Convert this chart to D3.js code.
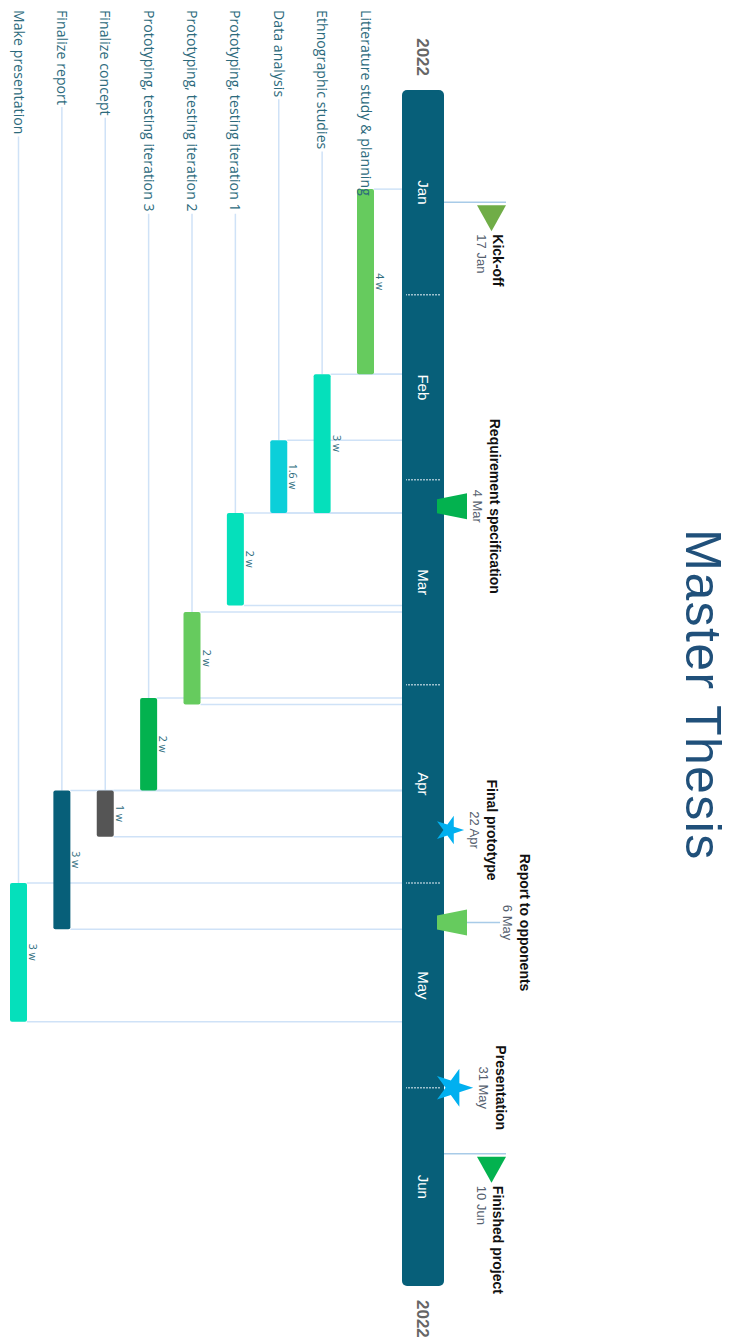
<!DOCTYPE html>
<html><head><meta charset="utf-8">
<script src="https://cdn.jsdelivr.net/npm/d3@7"></script>
<style>body{margin:0;background:#fff} svg{display:block}</style>
</head><body>
<svg id="chart" width="733" height="1341"></svg>
<script>
// ---------- data ----------
const chartTitle = "Master Thesis";
const yearLabel = "2022";
const timelineStart = "2022-01-01";
const timelineEnd = "2022-07-01";
const taskNames = ["Litterature study & planning","Ethnographic studies","Data analysis","Prototyping, testing iteration 1","Prototyping, testing iteration 2","Prototyping, testing iteration 3","Finalize concept","Finalize report","Make presentation"];
const taskStarts = ["2022-01-16","2022-02-13","2022-02-23","2022-03-06","2022-03-21","2022-04-03","2022-04-17","2022-04-17","2022-05-01"];
const taskEnds   = ["2022-02-13","2022-03-06","2022-03-06","2022-03-20","2022-04-04","2022-04-17","2022-04-24","2022-05-08","2022-05-22"];
const milestoneNames = ["Kick-off","Requirement specification","Final prototype","Report to opponents","Presentation","Finished project"];
const milestoneDates = ["2022-01-17","2022-03-04","2022-04-22","2022-05-06","2022-05-31","2022-06-10"];
const milestoneShapes = ["triangle","trapezoid","star","trapezoid","star","triangle"];

// ---------- styles ----------
const taskPalette = ["#66cb5e","#05e0bb","#0ccfd9","#05e0bb","#66cb5e","#03b24f","#555555","#075f79","#05e0bb"];
const milestonePalette = ["#70ad47","#03b24f","#00b0f0","#66cb5e","#00b0f0","#03b24f"];
const starRadius = {"Final prototype":15, "Presentation":20};

const parse = d3.timeParse("%Y-%m-%d");
const fmt = d3.timeFormat("%-d %b");

const svg = d3.select("#chart");
// Whole chart is laid out horizontally and rotated 90deg clockwise.
const g = svg.append("g").attr("transform","translate(733,0) rotate(90)");

const x = d3.scaleTime().domain([parse(timelineStart), parse(timelineEnd)]).range([90, 1286]);
const row = d3.scalePoint().domain(taskNames).range([367.5, 714.5]);

const tlTop = 289, tlBottom = 331, barH = 17;
const lineColor = "#cfe2f7";
const textTeal = "#2c6a7c";
const sans = "Liberation Sans, Arial, sans-serif";

// title
g.append("text").attr("x", 695).attr("y", 47).attr("text-anchor","middle")
  .attr("font-family",sans).attr("font-size", 50).attr("letter-spacing",1.4)
  .attr("fill","#20507a").text(chartTitle);

// timeline band
g.append("rect").attr("x", x.range()[0]).attr("y", tlTop)
  .attr("width", x.range()[1]-x.range()[0]).attr("height", tlBottom-tlTop)
  .attr("rx", 5).attr("fill", "#075f79");

const monthStarts = d3.timeMonth.range(parse(timelineStart), parse(timelineEnd));
g.selectAll(".mdiv").data(monthStarts.slice(1)).join("line")
  .attr("x1", d=>x(d)).attr("x2", d=>x(d)).attr("y1", tlTop+4).attr("y2", tlBottom-4)
  .attr("stroke","#9cc0cd").attr("stroke-width",1.5).attr("stroke-dasharray","2,1");
g.selectAll(".mlab").data(monthStarts).join("text")
  .attr("x", d=>(x(d)+x(d3.timeMonth.offset(d,1)))/2).attr("y", (tlTop+tlBottom)/2)
  .attr("dy","0.35em").attr("text-anchor","middle")
  .attr("font-family",sans).attr("font-size",15)
  .attr("fill","#ffffff").text(d3.timeFormat("%b"));

// year labels
g.append("text").attr("x", x.range()[0]-14).attr("y",(tlTop+tlBottom)/2).attr("dy","0.35em")
  .attr("text-anchor","end").attr("font-family",sans)
  .attr("font-weight","bold").attr("font-size",17).attr("fill","#666").text(yearLabel);
g.append("text").attr("x", x.range()[1]+14).attr("y",(tlTop+tlBottom)/2).attr("dy","0.35em")
  .attr("text-anchor","start").attr("font-family",sans)
  .attr("font-weight","bold").attr("font-size",17).attr("fill","#666").text(yearLabel);

// tasks
const tasks = taskNames.map((n,i)=>({name:n, start:parse(taskStarts[i]), end:parse(taskEnds[i]), color:taskPalette[i]}));
const lines = g.append("g");
const bars = g.append("g");
const labels = g.append("g");

tasks.forEach(t=>{
  const cy = row(t.name);
  const top = cy - barH/2;
  [t.start, t.end].forEach(d=>{
    lines.append("line").attr("x1", x(d)).attr("x2", x(d)).attr("y1", tlBottom).attr("y2", top)
      .attr("stroke", lineColor).attr("stroke-width",1.5);
  });
  const lab = labels.append("text").attr("x",10).attr("y",cy).attr("dy","0.35em")
    .attr("font-family","Open Sans, sans-serif").attr("font-size",14).attr("letter-spacing",0.1)
    .attr("fill",textTeal).text(t.name);
  const endX = 10 + lab.node().getComputedTextLength() + 2;
  if (endX < x(t.start)) {
    lines.append("line").attr("x1", endX).attr("x2", x(t.start)).attr("y1", cy).attr("y2", cy)
      .attr("stroke", lineColor).attr("stroke-width",1.5);
  }
  bars.append("rect").attr("x", x(t.start)).attr("y", top).attr("width", x(t.end)-x(t.start))
    .attr("height", barH).attr("rx",2).attr("fill", t.color);
  const weeks = d3.timeDay.count(t.start, t.end)/7;
  labels.append("text").attr("x", (x(t.start)+x(t.end))/2).attr("y", top-2)
    .attr("text-anchor","middle").attr("font-family","Open Sans, sans-serif").attr("font-size",10.5)
    .attr("fill",textTeal).text(d3.format(".2~")(Math.round(weeks*10)/10) + " w");
});

// milestones
const ms = milestoneNames.map((n,i)=>({name:n, date:parse(milestoneDates[i]), shape:milestoneShapes[i], color:milestonePalette[i]}));
const mg = g.append("g");
const placed = [];
ms.forEach(m=>{
  const u = x(d3.timeDay.offset(m.date,1));
  if (m.shape === "triangle") {
    mg.append("line").attr("x1",u).attr("x2",u).attr("y1",tlTop).attr("y2",227)
      .attr("stroke","#a8cbe8").attr("stroke-width",1.5);
    mg.append("path").attr("d",`M${u+3},227L${u+3},256L${u+29},241.5Z`).attr("fill",m.color);
    mg.append("text").attr("x",u+32).attr("y",240).attr("font-family",sans)
      .attr("font-weight","bold").attr("font-size",14).attr("fill","#111").text(m.name);
    mg.append("text").attr("x",u+32).attr("y",256).attr("font-family",sans)
      .attr("font-size",13).attr("fill","#55606e").text(fmt(m.date));
    return;
  }
  let topV;
  if (m.shape === "trapezoid") {
    mg.append("path").attr("d",`M${u-7},296L${u+7},296L${u+13},266L${u-13},266Z`).attr("fill",m.color);
    topV = 266;
  } else {
    const r = starRadius[m.name] || 15;
    const cv = 296 - 0.809*r;  // star base overlaps the band edge
    mg.append("path").attr("transform",`translate(${u},${cv})`)
      .attr("d", d3.symbol(d3.symbolStar, r*r/0.8908)()).attr("fill",m.color);
    topV = cv - r;
  }
  // label collision -> raise level
  const tmp = mg.append("text").attr("font-family",sans)
      .attr("font-weight","bold").attr("font-size",14).text(m.name);
  const w = tmp.node().getComputedTextLength();
  tmp.remove();
  const ext = [u - w/2, u + w/2];
  let level = 0;
  while (placed.some(p=>p.level===level && p.ext[0] < ext[1]+4 && ext[0] < p.ext[1]+4)) level++;
  placed.push({level, ext});
  let anchorV = topV;
  if (level > 0) {
    anchorV = topV - 33*level;
    mg.append("line").attr("x1",u).attr("x2",u).attr("y1",topV).attr("y2",anchorV)
      .attr("stroke","#a8cbe8").attr("stroke-width",1.5);
  }
  const tOff = level>0 ? 20 : 23, dOff = level>0 ? 3 : 6;
  mg.append("text").attr("x",u).attr("y",anchorV - tOff).attr("text-anchor","middle")
    .attr("font-family",sans).attr("font-weight","bold")
    .attr("font-size",14).attr("fill","#111").text(m.name);
  mg.append("text").attr("x",u).attr("y",anchorV - dOff).attr("text-anchor","middle")
    .attr("font-family",sans).attr("font-size",13)
    .attr("fill","#55606e").text(fmt(m.date));
});
</script>
</body></html>
